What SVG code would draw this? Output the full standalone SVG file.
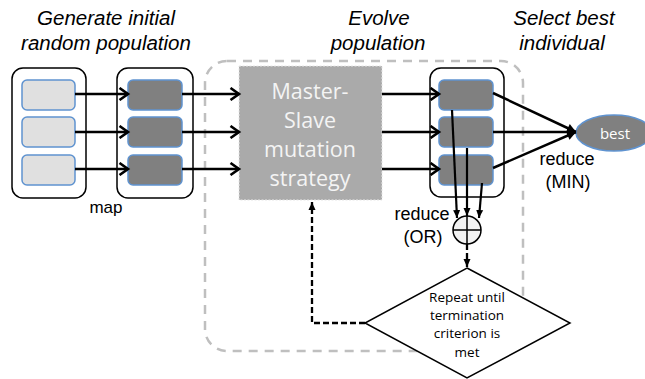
<svg xmlns="http://www.w3.org/2000/svg" width="645" height="379" viewBox="0 0 645 379">
<defs>
<style>
.head{font-family:"Liberation Sans",Arial,sans-serif;font-style:italic;font-size:20.5px;fill:#000;text-anchor:middle}
.lbl{font-family:"Liberation Sans",Arial,sans-serif;font-size:18px;fill:#000;text-anchor:middle}
.cal{font-family:"Open Sans","Noto Sans",sans-serif;text-anchor:middle}
.outer{fill:#fff;stroke:#000;stroke-width:1.5}
.light{fill:#e0e0e0;stroke:#5f93d0;stroke-width:1.5}
.dark{fill:#808080;stroke:#5f93d0;stroke-width:1.5}
.arr{stroke:#000;stroke-width:2.5;fill:none}
.thin{stroke:#000;stroke-width:2.2;fill:none}
.dash{stroke:#000;stroke-width:2.3;fill:none;stroke-dasharray:6,3}
</style>
<marker id="chev" markerUnits="userSpaceOnUse" markerWidth="14" markerHeight="14" refX="10.5" refY="7" orient="auto">
<path d="M2,1 L10.5,7 L2,13" fill="none" stroke="#000" stroke-width="2.6"/>
</marker>
<marker id="tri" markerUnits="userSpaceOnUse" markerWidth="12" markerHeight="12" refX="10" refY="6" orient="auto">
<path d="M1,1.5 L10,6 L1,10.5 Z" fill="#000"/>
</marker>
<marker id="tris" markerUnits="userSpaceOnUse" markerWidth="10" markerHeight="10" refX="8" refY="5" orient="auto">
<path d="M0,1.5 L8,5 L0,8.5 Z" fill="#000"/>
</marker>
</defs>
<rect width="645" height="379" fill="#fff"/>

<g id="headings">
<text class="head" x="106" y="25">Generate initial</text>
<text class="head" x="106" y="50">random population</text>
<text class="head" x="379" y="25">Evolve</text>
<text class="head" x="378" y="50">population</text>
<text class="head" x="564" y="25">Select best</text>
<text class="head" x="562" y="50">individual</text>
</g>

<g id="evolve-region">
<rect x="205" y="61" width="318" height="290" rx="22" fill="none" stroke="#bfbfbf" stroke-width="2.5" stroke-dasharray="9,7"/>
</g>

<g id="population-initial">
<rect class="outer" x="12" y="68" width="74" height="130" rx="11"/>
<rect class="light" x="22" y="80" width="53" height="30" rx="5"/>
<rect class="light" x="22" y="117" width="53" height="30" rx="5"/>
<rect class="light" x="22" y="155" width="53" height="30" rx="5"/>
</g>

<g id="population-mapped">
<rect class="outer" x="117" y="68" width="76" height="130" rx="11"/>
<rect class="dark" x="128" y="80" width="54" height="30" rx="5"/>
<rect class="dark" x="128" y="117" width="54" height="30" rx="5"/>
<rect class="dark" x="128" y="155" width="54" height="30" rx="5"/>
<text class="lbl" x="106" y="213" style="font-size:17px">map</text>
</g>

<g id="master-slave">
<rect x="239" y="66" width="143" height="134" fill="#aaaaaa" stroke="#e6e6e6" stroke-width="1" stroke-dasharray="2,1.5"/>
<text class="cal" x="310" y="99" style="font-size:21.5px;fill:#f4f4f4">Master-</text>
<text class="cal" x="310" y="128" style="font-size:21.5px;fill:#f4f4f4">Slave</text>
<text class="cal" x="310" y="157" style="font-size:21.5px;fill:#f4f4f4">mutation</text>
<text class="cal" x="310" y="186" style="font-size:21.5px;fill:#f4f4f4">strategy</text>
</g>

<g id="population-evolved">
<rect class="outer" x="430" y="68" width="74" height="129" rx="11"/>
<rect class="dark" x="439" y="80" width="54" height="30" rx="5"/>
<rect class="dark" x="439" y="117" width="54" height="30" rx="5"/>
<rect class="dark" x="439" y="155" width="54" height="30" rx="5"/>
</g>

<g id="best">
<ellipse cx="614" cy="133" rx="38" ry="18" fill="#808080" stroke="#5f93d0" stroke-width="1.5"/>
<text class="cal" x="615" y="139" style="font-size:15px;fill:#fff">best</text>
<text class="lbl" x="567" y="165">reduce</text>
<text class="lbl" x="568" y="188">(MIN)</text>
</g>

<g id="or-reduce">
<circle cx="467" cy="230" r="14" fill="#f2f2f2" stroke="#000" stroke-width="1.5"/>
<path d="M453,230 H481 M467,216 V244" stroke="#000" stroke-width="1.5"/>
<text class="lbl" x="422" y="220">reduce</text>
<text class="lbl" x="423" y="243">(OR)</text>
</g>

<g id="termination">
<polygon points="467,268 570,323 467,378 365,323" fill="#fff" stroke="#000" stroke-width="1.5"/>
<text class="cal" x="467" y="302" style="font-size:13.5px">Repeat until</text>
<text class="cal" x="467" y="320" style="font-size:13.5px">termination</text>
<text class="cal" x="467" y="338" style="font-size:13.5px">criterion is</text>
<text class="cal" x="467" y="357" style="font-size:13.5px">met</text>
</g>

<g id="connectors">
<line class="arr" x1="75" y1="94" x2="128" y2="94" marker-end="url(#chev)"/>
<line class="arr" x1="75" y1="132" x2="128" y2="132" marker-end="url(#chev)"/>
<line class="arr" x1="75" y1="169" x2="128" y2="169" marker-end="url(#chev)"/>
<line class="arr" x1="182" y1="94" x2="239" y2="94" marker-end="url(#chev)"/>
<line class="arr" x1="182" y1="132" x2="239" y2="132" marker-end="url(#chev)"/>
<line class="arr" x1="182" y1="169" x2="239" y2="169" marker-end="url(#chev)"/>
<line class="arr" x1="382" y1="94" x2="439" y2="94" marker-end="url(#chev)"/>
<line class="arr" x1="382" y1="132" x2="439" y2="132" marker-end="url(#chev)"/>
<line class="arr" x1="382" y1="169" x2="439" y2="169" marker-end="url(#chev)"/>
<line class="arr" x1="493" y1="93" x2="576" y2="132" marker-end="url(#tri)"/>
<line class="arr" x1="493" y1="132" x2="576" y2="132" marker-end="url(#tri)"/>
<line class="arr" x1="493" y1="168" x2="576" y2="132" marker-end="url(#tri)"/>
<line class="thin" x1="452" y1="110" x2="457" y2="218" marker-end="url(#tris)"/>
<line class="thin" x1="467" y1="148" x2="467" y2="216" marker-end="url(#tris)"/>
<line class="thin" x1="482" y1="183" x2="479" y2="218" marker-end="url(#tris)"/>
<line class="dash" x1="467" y1="244" x2="467" y2="267" marker-end="url(#tris)"/>
<polyline class="dash" points="365,323 312,323 312,202" marker-end="url(#tris)"/>
</g>
</svg>
